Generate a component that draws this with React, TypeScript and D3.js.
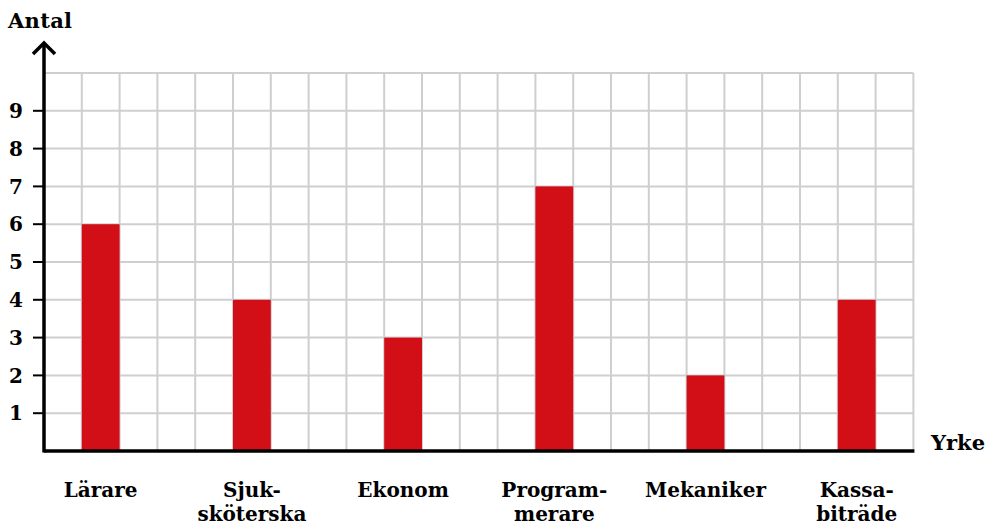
import React from "react";
import * as d3 from "d3";

const categories: string[][] = [
  ["Lärare"],
  ["Sjuk-", "sköterska"],
  ["Ekonom"],
  ["Program-", "merare"],
  ["Mekaniker"],
  ["Kassa-", "biträde"],
];
const values: number[] = [6, 4, 3, 7, 2, 4];
const yTicks: number[] = [1, 2, 3, 4, 5, 6, 7, 8, 9];
const yLabel = "Antal";
const xLabel = "Yrke";

const W = 987;
const H = 527;
const x0 = 44;
const cols = 23;
const colW = 37.8;
const y0 = 451;
const yTop = 73;

export default function App() {
  const y = d3.scaleLinear().domain([0, 10]).range([y0, yTop]);
  const xCol = d3.scaleLinear().domain([0, cols]).range([x0, x0 + cols * colW]);
  const font = "'DejaVu Serif', serif";
  const gridV = d3.range(1, cols + 1);
  const gridH = d3.range(1, 11);
  return (
    <svg width={W} height={H} style={{ position: "absolute", left: 0, top: 0 }} fontFamily={font}>
      <rect width={W} height={H} fill="#fff" />
      {gridH.map((v) => (
        <line key={"h" + v} x1={x0} x2={xCol(cols)} y1={y(v)} y2={y(v)} stroke="#cfcfcf" strokeWidth={2} />
      ))}
      {gridV.map((c) => (
        <line key={"v" + c} x1={xCol(c)} x2={xCol(c)} y1={yTop} y2={y0} stroke="#cfcfcf" strokeWidth={2} />
      ))}
      {values.map((v, i) => (
        <rect
          key={"b" + i}
          x={xCol(1 + 4 * i)}
          width={colW}
          y={y(v)}
          height={y0 - y(v)}
          fill="#d20e17"
        />
      ))}
      {/* axes */}
      <line x1={x0} x2={xCol(cols) + 1} y1={y0} y2={y0} stroke="#000" strokeWidth={3.5} />
      <line x1={x0} x2={x0} y1={y0 + 1.5} y2={43} stroke="#000" strokeWidth={3.5} />
      <polyline points={`${x0 - 11},${54} ${x0},${43} ${x0 + 11},${54}`} fill="none" stroke="#000" strokeWidth={3.5} />
      {yTicks.map((t) => (
        <g key={"t" + t}>
          <line x1={x0 - 11} x2={x0} y1={y(t)} y2={y(t)} stroke="#000" strokeWidth={2} />
          <text x={23} y={y(t)} dy="0.36em" textAnchor="end" fontSize={20} fontWeight="bold">
            {t}
          </text>
        </g>
      ))}
      <text x={8} y={28} fontSize={21} fontWeight="bold" textLength={64}>{yLabel}</text>
      <text x={985} y={450} textAnchor="end" fontSize={21} fontWeight="bold">{xLabel}</text>
      {categories.map((lines, i) => (
        <text key={"c" + i} x={xCol(1 + 4 * i) + colW / 2} y={497} textAnchor="middle" fontSize={20} fontWeight="bold">
          {lines.map((l, j) => (
            <tspan key={j} x={xCol(1 + 4 * i) + colW / 2} dy={j === 0 ? 0 : 24}>
              {l}
            </tspan>
          ))}
        </text>
      ))}
    </svg>
  );
}
